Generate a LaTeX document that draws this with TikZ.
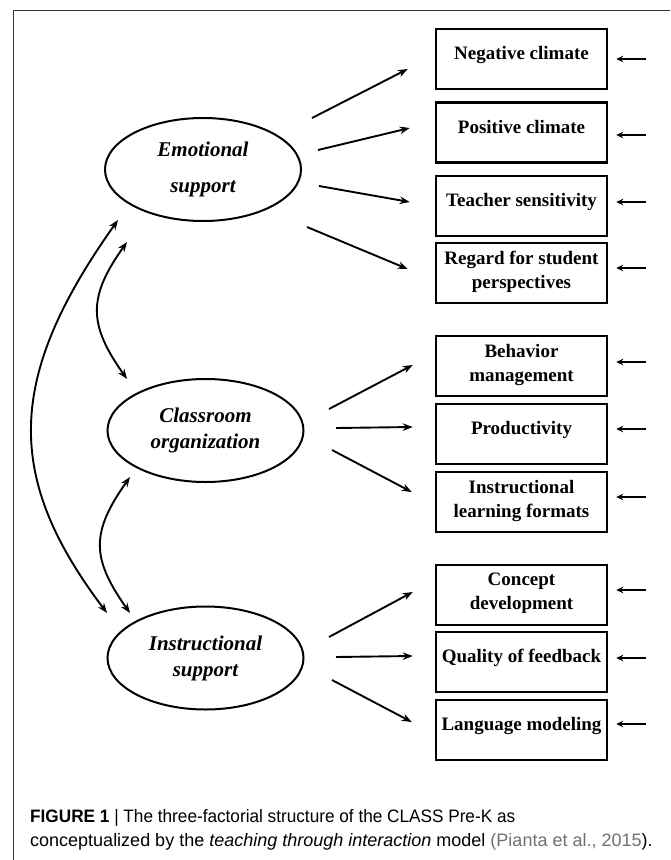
\documentclass[tikz,border=0pt]{standalone}
\usepackage{fontspec}
\setmainfont{Liberation Serif}
\newfontfamily\capfont{Liberation Sans}
\usetikzlibrary{arrows.meta,calc,shapes.geometric}
\definecolor{linkgray}{HTML}{707070}
\definecolor{framegray}{HTML}{333333}
\begin{document}
\begin{tikzpicture}[x=1pt,y=-1pt,
  box/.style={draw, line width=2.5pt, minimum width=171pt, minimum height=60pt,
    align=center, inner sep=0pt, text depth=12pt, font=\bfseries\fontsize{19}{24}\selectfont},
  box2/.style={box, text depth=7pt},
  fac/.style={draw, ellipse, line width=2pt, minimum width=196pt, minimum height=103pt,
    align=center, inner sep=0pt, font=\bfseries\itshape\fontsize{21}{26}\selectfont},
  arr/.style={line width=1.9pt, -{Stealth[length=10pt,width=7.5pt]}},
  dbl/.style={line width=1.9pt, {Stealth[length=10pt,width=7.5pt]}-{Stealth[length=10pt,width=7.5pt]}},
  err/.style={line width=2.2pt, -{Stealth[length=7pt,width=6.5pt]}}]
\useasboundingbox (0,0) rectangle (670,860);
% frame (cropped)
\draw[framegray, line width=1pt] (13,860) -- (13,10) -- (670,10);

% latent factors
\node[fac] (es) at (203,169.5) {Emotional\\[10pt]support};
\node[fac] (co) at (205.5,430.5) {Classroom\\organization};
\node[fac] (is) at (205.5,658) {Instructional\\support};

% indicators
\node[box]  (b1)  at (521.5,59)    {Negative climate};
\node[box]  (b2)  at (521.5,132.5) {Positive climate};
\node[box]  (b3)  at (521.5,206)   {Teacher sensitivity};
\node[box2] (b4)  at (521.5,273)   {Regard for student\\perspectives};
\node[box2] (b5)  at (521.5,366)   {Behavior\\management};
\node[box]  (b6)  at (521.5,434)   {Productivity};
\node[box2] (b7)  at (521.5,502)   {Instructional\\learning formats};
\node[box2] (b8)  at (521.5,595)   {Concept\\development};
\node[box]  (b9)  at (521.5,662)   {Quality of feedback};
\node[box]  (b10) at (521.5,730)   {Language modeling};

% loadings
\draw[arr] ($(es.center)+(109,-51.5)$) -- ($(b1.west)+(-27,10)$);
\draw[arr] ($(es.center)+(115,-19.5)$) -- ($(b2.west)+(-25,-4.5)$);
\draw[arr] ($(es.center)+(116,16.5)$)  -- ($(b3.west)+(-25,-4)$);
\draw[arr] ($(es.center)+(104,57.5)$)  -- ($(b4.west)+(-27,-4)$);

\draw[arr] ($(co.center)+(123.5,-21.5)$) -- ($(b5.west)+(-22,-1)$);
\draw[arr] ($(co.center)+(130.5,-2.5)$)  -- ($(b6.west)+(-22,-7)$);
\draw[arr] ($(co.center)+(126.5,19.5)$)  -- ($(b7.west)+(-23,-10)$);

\draw[arr] ($(is.center)+(123.5,-21)$) -- ($(b8.west)+(-22,-3)$);
\draw[arr] ($(is.center)+(130.5,-1)$)  -- ($(b9.west)+(-22,-6)$);
\draw[arr] ($(is.center)+(126.5,22)$)  -- ($(b10.west)+(-23,-8)$);

% error terms
\foreach \b/\dy in {b1/0,b2/2.5,b3/-4,b4/-5,b5/-4,b6/-5,b7/-5,b8/-5,b9/-4,b10/-6}{
  \draw[err] ($(\b.east)+(38,\dy)$) -- ($(\b.east)+(8,\dy)$);
}

% covariances
\draw[dbl] ($(es.center)+(-85,50.5)$) .. controls (5,379) and (5,478) .. ($(is.center)+(-98.5,-45)$);
\draw[dbl] ($(es.center)+(-76,72.5)$) .. controls (88,297) and (88,324) .. ($(co.center)+(-78.5,-51.5)$);
\draw[dbl] ($(co.center)+(-75.5,46.5)$) .. controls (91,532) and (91,558) .. ($(is.center)+(-75.5,-45)$);

% caption
\node[anchor=base west, inner sep=0pt, font=\capfont\fontsize{18}{22}\selectfont] (cap1) at (30,822)
  {\scalebox{0.955}[1]{\textbf{FIGURE 1} | The three-factorial structure of the CLASS Pre-K as}};
\node[anchor=base west, inner sep=0pt, font=\capfont\fontsize{18}{22}\selectfont] (cap2) at (30,846)
  {conceptualized by the \textit{teaching through interaction} model {\color{linkgray}(Pianta et al., 2015}).};
\end{tikzpicture}
\end{document}
